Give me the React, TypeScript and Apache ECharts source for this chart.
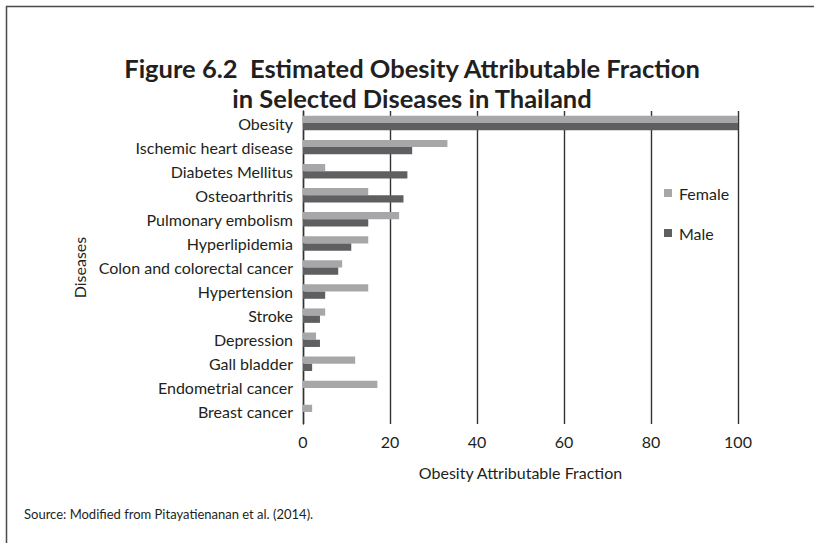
import React, { useEffect, useRef } from "react";
import * as echarts from "echarts";

const categories = [
  "Obesity",
  "Ischemic heart disease",
  "Diabetes Mellitus",
  "Osteoarthritis",
  "Pulmonary embolism",
  "Hyperlipidemia",
  "Colon and colorectal cancer",
  "Hypertension",
  "Stroke",
  "Depression",
  "Gall bladder",
  "Endometrial cancer",
  "Breast cancer",
];
const femaleValues = [100, 33.2, 5.1, 15, 22.1, 15, 9, 15, 5.1, 3, 12, 17.1, 2.1];
const maleValues = [100, 25.1, 24, 23.1, 15, 11.1, 8.1, 5.1, 3.9, 3.9, 2.1, 0, 0];
const xTicks = [0, 20, 40, 60, 80, 100];
const titleLines = [
  "Figure 6.2  Estimated Obesity Attributable Fraction",
  "in Selected Diseases in Thailand",
];

const FONT = "Lato, 'Open Sans', sans-serif";

export default function App() {
  const ref = useRef<HTMLDivElement>(null);
  useEffect(() => {
    if (!ref.current) return;
    const chart = echarts.init(ref.current, undefined, { renderer: "svg" });
    const titleStyle = {
      fontFamily: FONT,
      fontWeight: "bold",
      fontSize: 25.5,
      fill: "#231f20",
      textAlign: "center",
      textVerticalAlign: "middle",
    };
    chart.setOption({
      animation: false,
      backgroundColor: "#ffffff",
      textStyle: { fontFamily: FONT },
      legend: {
        orient: "vertical",
        left: 659,
        top: 180,
        itemWidth: 8,
        itemHeight: 8,
        itemGap: 24,
        icon: "rect",
        data: ["Female", "Male"],
        textStyle: { fontFamily: FONT, fontSize: 16, color: "#231f20", padding: [0, 0, 0, 2] },
      },
      grid: { left: 303, right: 76, top: 111, bottom: 119, containLabel: false },
      xAxis: {
        type: "value",
        min: 0,
        max: 100,
        interval: 20,
        name: "Obesity Attributable Fraction",
        nameLocation: "middle",
        nameGap: 40,
        nameTextStyle: { fontFamily: FONT, fontSize: 16, color: "#231f20" },
        axisLine: { show: false },
        axisTick: { show: false },
        axisLabel: {
          fontFamily: FONT,
          fontSize: 16,
          color: "#231f20",
          margin: 9,
          formatter: (v: number) => (xTicks.includes(v) ? String(v) : ""),
        },
        splitLine: { show: true, lineStyle: { color: "#333333", width: 1.4 } },
      },
      yAxis: {
        type: "category",
        data: categories,
        inverse: true,
        name: "Diseases",
        nameLocation: "middle",
        nameRotate: 90,
        nameGap: 210,
        nameTextStyle: { fontFamily: FONT, fontSize: 16, color: "#231f20" },
        axisLine: { show: true, lineStyle: { color: "#333333", width: 1.4 } },
        axisTick: { show: false },
        axisLabel: { fontFamily: FONT, fontSize: 16, color: "#231f20", margin: 10 },
      },
      series: [
        {
          name: "Female",
          type: "bar",
          data: femaleValues,
          barCategoryGap: "40%",
          barGap: "0%",
          itemStyle: { color: "#a7a7a9" },
        },
        {
          name: "Male",
          type: "bar",
          data: maleValues,
          barCategoryGap: "40%",
          barGap: "0%",
          itemStyle: { color: "#5f5f61" },
        },
      ],
      graphic: [
        {
          type: "polyline",
          shape: { points: [[6.5, 543], [6.5, 6.5], [814, 6.5]] },
          style: { stroke: "#4a4a4a", lineWidth: 1.5, fill: "none" },
        },
        {
          type: "text",
          x: 412,
          y: 68,
          style: { ...titleStyle, text: titleLines[0] },
        },
        {
          type: "text",
          x: 412,
          y: 98,
          style: { ...titleStyle, text: titleLines[1] },
        },
        {
          type: "text",
          left: 24,
          top: 507,
          style: {
            text: "Source: Modified from Pitayatienanan et al. (2014).",
            fontFamily: FONT,
            fontSize: 13,
            fill: "#231f20",
          },
        },
      ],
    });
    return () => chart.dispose();
  }, []);
  return (
    <div
      ref={ref}
      style={{ position: "fixed", left: 0, top: 0, width: 814, height: 543 }}
    />
  );
}
